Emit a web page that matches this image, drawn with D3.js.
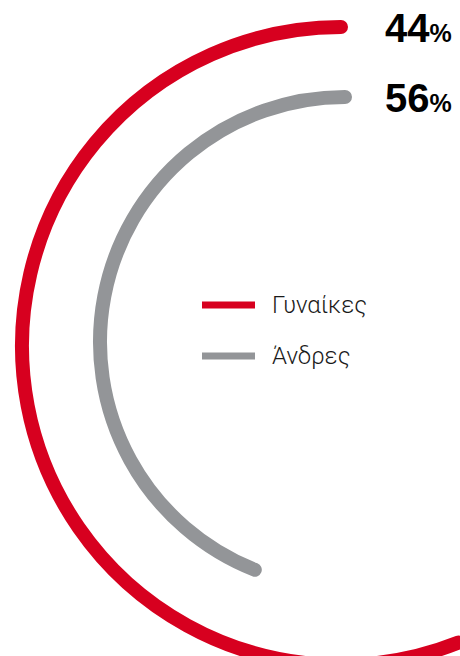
<!DOCTYPE html>
<html lang="el">
<head>
    <meta charset="UTF-8">
    <title>Γυναίκες / Άνδρες</title>
    <script src="https://cdn.jsdelivr.net/npm/d3@7"></script>
    <style>
        html, body { margin: 0; padding: 0; background: #fff; }
        svg { display: block; }
        .pct { font-family: "Liberation Sans", Arial, sans-serif; font-weight: bold; fill: #000; }
        .legend text { font-family: Roboto, "Liberation Sans", sans-serif; font-weight: 300; fill: #1a1a1a; }
    </style>
</head>
<body>
<svg width="460" height="656"></svg>
<script>

    // data
    var categories = ["Γυναίκες", "Άνδρες"];
    var values = [44, 56];
    var colors = ["#d7001f", "#939598"];

    var svg = d3.select("svg"),
        width = +svg.attr("width"),
        height = +svg.attr("height");

    // ring geometry (outer ring first)
    var ringCx = [341, 345],
        ringCy = [346, 342],
        ringR = [319, 245],
        thick = 14;

    // angle measured clockwise from 12 o'clock
    var angle = d3.scaleLinear().domain([0, 100]).range([0, 2 * Math.PI]);

    function ringPath(d, i) {
        var p = d3.path(),
            a0 = angle(d) - Math.PI / 2,
            a1 = 2 * Math.PI - Math.PI / 2;
        p.arc(ringCx[i], ringCy[i], ringR[i], a0, a1, false);
        return p.toString();
    }

    svg.append("g")
        .attr("class", "rings")
        .selectAll("path")
        .data(values)
        .enter().append("path")
        .attr("d", ringPath)
        .attr("fill", "none")
        .attr("stroke", function(d, i) { return colors[i]; })
        .attr("stroke-width", thick)
        .attr("stroke-linecap", "round");

    // percentage labels at the top end of each ring
    var pct = svg.append("g")
        .selectAll("text")
        .data(values)
        .enter().append("text")
        .attr("class", "pct")
        .attr("x", 385)
        .attr("y", function(d, i) { return ringCy[i] - ringR[i] + 15; });

    pct.append("tspan")
        .style("font-size", "40px")
        .text(function(d) { return d; });
    pct.append("tspan")
        .style("font-size", "25px")
        .text("%");

    // legend
    var legend = svg.append("g")
        .attr("class", "legend")
        .selectAll("g")
        .data(categories)
        .enter().append("g")
        .attr("transform", function(d, i) { return "translate(202," + (305 + i * 51) + ")"; });

    legend.append("line")
        .attr("x1", 0)
        .attr("x2", 53)
        .attr("stroke", function(d, i) { return colors[i]; })
        .attr("stroke-width", 7);

    legend.append("text")
        .attr("x", 70)
        .attr("y", 8)
        .style("font-size", "24px")
        .text(function(d) { return d; });

</script>
</body>
</html>
